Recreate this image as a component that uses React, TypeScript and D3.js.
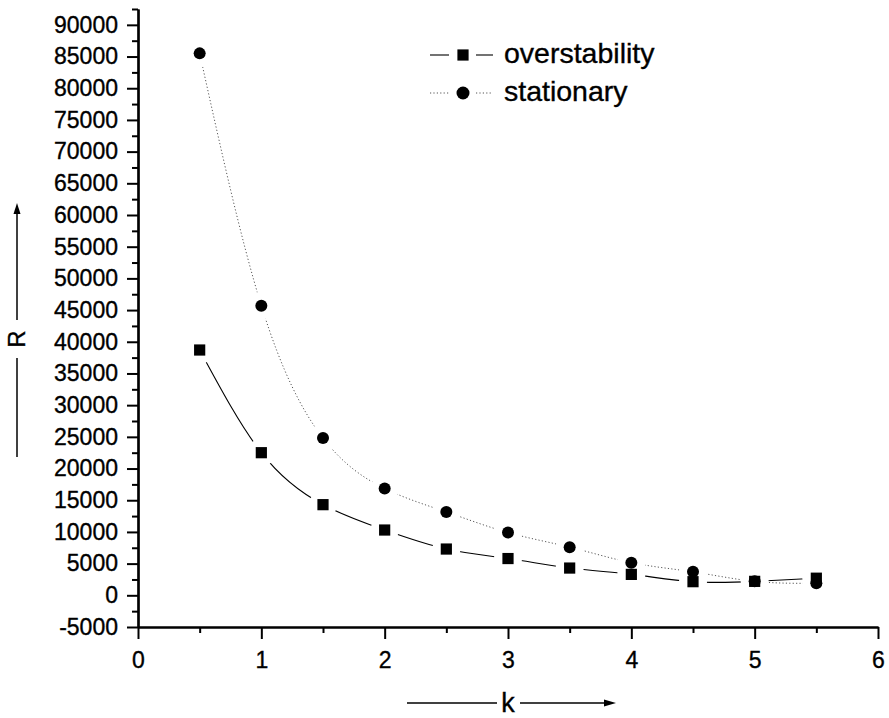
import React, { useEffect, useRef } from 'react';
import * as d3 from 'd3';

// values
const kValues = [0.5, 1, 1.5, 2, 2.5, 3, 3.5, 4, 4.5, 5, 5.5];
const overstability = [38700, 22500, 14300, 10300, 7300, 5800, 4300, 3300, 2150, 2200, 2700];
const stationary = [85500, 45700, 24800, 16850, 13150, 9900, 7600, 5150, 3700, 2200, 1900];

const yTicks = d3.range(-5000, 90001, 5000);
const yMinorTicks = d3.range(-2500, 92501, 5000);
const xTicks = [0, 1, 2, 3, 4, 5, 6];
const xMinorTicks = [0.5, 1.5, 2.5, 3.5, 4.5, 5.5];

const seriesNames = ['overstability', 'stationary'];

const W = 889;
const H = 718;
const FONT = '"Liberation Sans", Arial, Helvetica, sans-serif';

const App = () => {
  const ref = useRef<SVGSVGElement>(null);

  useEffect(() => {
    const svg = d3.select(ref.current);
    svg.selectAll('*').remove();

    const x = d3.scaleLinear().domain([0, 6]).range([138, 878]);
    const y = d3.scaleLinear().domain([-5000, 92500]).range([627, 9]);

    const defs = svg.append('defs');

    // lines stop short of the markers, like the original
    const series = [
      { name: 'overstability', values: overstability, dash: null, stroke: '#000', width: 1.1 },
      { name: 'stationary', values: stationary, dash: '1.2,2.2', stroke: '#555', width: 1 },
    ];

    series.forEach((s, si) => {
      const pts = kValues.map((k, i) => [x(k), y(s.values[i])] as [number, number]);
      const mask = defs.append('mask').attr('id', `gap${si}`).attr('maskUnits', 'userSpaceOnUse');
      mask.append('rect').attr('x', 0).attr('y', 0).attr('width', W).attr('height', H).attr('fill', '#fff');
      mask.selectAll('circle').data(pts).enter().append('circle')
        .attr('cx', d => d[0]).attr('cy', d => d[1]).attr('r', 14).attr('fill', '#000');

      const line = d3.line().curve(d3.curveNatural);
      const p = svg.append('path')
        .attr('d', line(pts))
        .attr('fill', 'none')
        .attr('stroke', s.stroke)
        .attr('stroke-width', s.width)
        .attr('mask', `url(#gap${si})`);
      if (s.dash) p.attr('stroke-dasharray', s.dash);
    });

    // markers
    svg.append('g').selectAll('circle')
      .data(kValues).enter().append('circle')
      .attr('cx', d => x(d))
      .attr('cy', (d, i) => y(stationary[i]))
      .attr('r', 6)
      .attr('fill', '#000');

    svg.append('g').selectAll('rect')
      .data(kValues).enter().append('rect')
      .attr('x', d => x(d) - 5.6)
      .attr('y', (d, i) => y(overstability[i]) - 5.6)
      .attr('width', 11.2)
      .attr('height', 11.2)
      .attr('fill', '#000');

    // axes
    const plain = (d: any) => String(d);
    const yAxis = svg.append('g')
      .attr('transform', `translate(${x(0)},0)`)
      .call(d3.axisLeft(y).tickValues(yTicks).tickSize(11).tickSizeOuter(0).tickPadding(9).tickFormat(plain));
    svg.append('g')
      .attr('transform', `translate(${x(0)},0)`)
      .call(d3.axisLeft(y).tickValues(yMinorTicks).tickSize(6).tickSizeOuter(0).tickFormat(() => ''));

    const xAxis = svg.append('g')
      .attr('transform', `translate(0,${y(-5000)})`)
      .call(d3.axisBottom(x).tickValues(xTicks).tickSize(12).tickSizeOuter(0).tickPadding(13).tickFormat(plain));
    svg.append('g')
      .attr('transform', `translate(0,${y(-5000)})`)
      .call(d3.axisBottom(x).tickValues(xMinorTicks).tickSize(6).tickSizeOuter(0).tickFormat(() => ''));

    svg.selectAll('.domain').attr('stroke', '#000').attr('stroke-width', 2.2);
    svg.selectAll('.tick line').attr('stroke', '#000').attr('stroke-width', 2);
    [yAxis, xAxis].forEach(a => a.selectAll('text')
      .attr('font-family', FONT)
      .attr('font-size', 23)
      .attr('fill', '#000')
      .attr('stroke', '#000')
      .attr('stroke-width', 0.35));

    // axis titles with arrows
    const g = svg.append('g').attr('stroke', '#000').attr('stroke-width', 1.5);
    g.append('line').attr('x1', 17).attr('x2', 17).attr('y1', 457).attr('y2', 358);
    g.append('line').attr('x1', 17).attr('x2', 17).attr('y1', 320).attr('y2', 212);
    svg.append('path').attr('d', 'M17,203 L13.5,214 L20.5,214 Z').attr('fill', '#000');
    svg.append('text')
      .attr('transform', 'translate(25,339) rotate(-90)')
      .attr('text-anchor', 'middle')
      .attr('font-family', FONT)
      .attr('font-size', 24)
      .attr('stroke', '#000')
      .attr('stroke-width', 0.35)
      .text('R');

    g.append('line').attr('x1', 407).attr('x2', 497).attr('y1', 703).attr('y2', 703);
    g.append('line').attr('x1', 520).attr('x2', 606).attr('y1', 703).attr('y2', 703);
    svg.append('path').attr('d', 'M616,703 L604,699.5 L604,706.5 Z').attr('fill', '#000');
    svg.append('text')
      .attr('x', 508)
      .attr('y', 712)
      .attr('text-anchor', 'middle')
      .attr('font-family', FONT)
      .attr('font-size', 27)
      .attr('stroke', '#000')
      .attr('stroke-width', 0.35)
      .text('k');

    // legend
    const legend = svg.append('g');
    const rows = [55, 93];
    seriesNames.forEach((name, i) => {
      const ly = rows[i];
      const seg = legend.append('g')
        .attr('stroke', i === 0 ? '#000' : '#555')
        .attr('stroke-width', i === 0 ? 1.1 : 1);
      if (i === 1) seg.attr('stroke-dasharray', '1.2,2.2');
      seg.append('line').attr('x1', 430).attr('x2', 449).attr('y1', ly).attr('y2', ly);
      seg.append('line').attr('x1', 476).attr('x2', 493).attr('y1', ly).attr('y2', ly);
      if (i === 0) {
        legend.append('rect').attr('x', 463 - 5.6).attr('y', ly - 5.6).attr('width', 11.2).attr('height', 11.2).attr('fill', '#000');
      } else {
        legend.append('circle').attr('cx', 463).attr('cy', ly).attr('r', 6.5).attr('fill', '#000');
      }
      legend.append('text')
        .attr('x', 504)
        .attr('y', ly + 8)
        .attr('font-family', FONT)
        .attr('font-size', 28.5)
        .attr('stroke', '#000')
        .attr('stroke-width', 0.35)
        .text(name);
    });
  }, []);

  return (
    <svg
      ref={ref}
      width={W}
      height={H}
      style={{ position: 'absolute', left: 0, top: 0, background: '#fff' }}
    />
  );
};

export default App;
